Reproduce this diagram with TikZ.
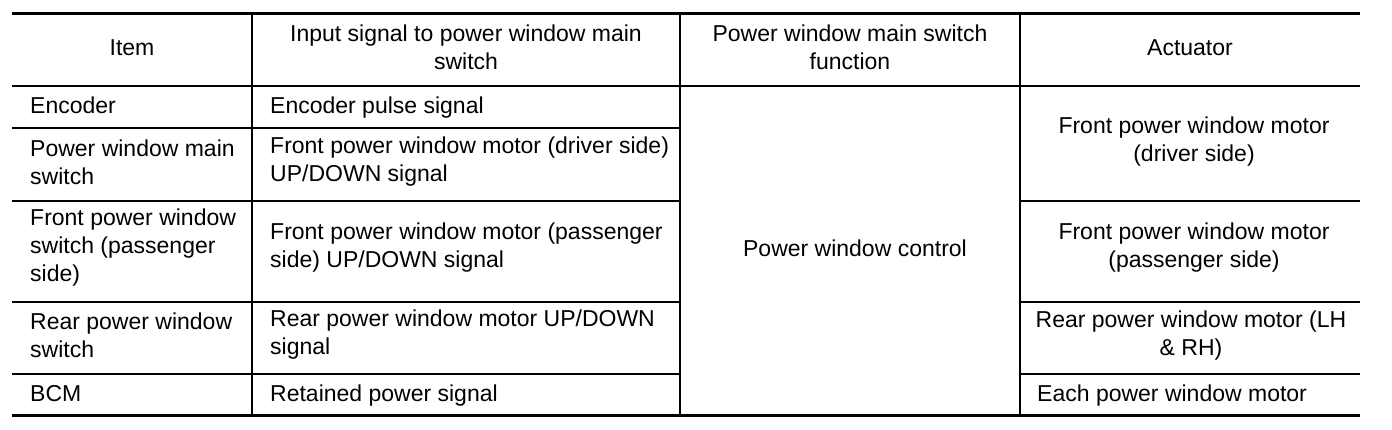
\documentclass[tikz,border=0pt]{standalone}
\usepackage{fontspec}
\setmainfont{Liberation Sans}
\usetikzlibrary{positioning}

\begin{document}
\begin{tikzpicture}[
  x=1pt, y=-1pt,
  font=\fontsize{23}{28}\selectfont,
  thickrule/.style={line width=3pt},
  midrule/.style={line width=1.5pt},
  thinrule/.style={line width=1.1pt},
  lcell/.style={
     anchor=west,
     inner sep=0pt,
     align=left
  },
  ccell/.style={
     inner sep=0pt,
     align=center
  },
  oneline/.style={
     text height=17pt,
     text depth=0pt
  }
]
\useasboundingbox (0,0) rectangle (1392,430);

% header
\node[ccell, oneline] (item)  at (132,47)  {Item};
\node[ccell] (input) at (466,47)  {Input signal to power window main\\switch};
\node[ccell] (func)  at (850,47)  {Power window main switch\\function};
\node[ccell, oneline] (act)   at (1190,47) {Actuator};

% item column
\node[lcell, oneline] (enc)  at (30,105) {Encoder};
\node[lcell] (pwms) at (30,162) {Power window main\\switch};
\node[lcell] (fpws) at (30,248) {Front power window\\switch (passenger\\side)};
\node[lcell] (rpws) at (30,335) {Rear power window\\switch};
\node[lcell, oneline] (bcm)  at (30,393) {BCM};

% input signal column
\node[lcell, oneline] (encsig)  at (270,105) {Encoder pulse signal};
\node[lcell] (pwmssig) at (270,162) {Front power window motor (driver side)\\UP/DOWN signal};
\node[lcell] (fpwssig) at (270,248) {Front power window motor (passenger\\side) UP/DOWN signal};
\node[lcell] (rpwssig) at (270,335) {Rear power window motor UP/DOWN\\signal};
\node[lcell, oneline] (bcmsig)  at (270,393) {Retained power signal};

% function column
\node[ccell, oneline] (ctrl) at (855,248) {Power window control};

% actuator column
\node[ccell] (actdrv)  at (1194,142) {Front power window motor\\(driver side)};
\node[ccell] (actpas)  at (1194,248) {Front power window motor\\(passenger side)};
\node[ccell] (actrear) at (1191,336) {Rear power window motor (LH\\\& RH)};
\node[lcell, oneline] (acteach) at (1037,393) {Each power window motor};

% rules
\draw[thickrule] (12,14) -- (1360,14);
\draw[thickrule] (12,415) -- (1360,415);
\draw[midrule] (12,86) -- (1360,86);
\foreach \yy in {128} \draw[thinrule] (12,\yy) -- (680,\yy);
\foreach \yy in {201,302,374} {
  \draw[thinrule] (12,\yy) -- (680,\yy);
  \draw[thinrule] (1020,\yy) -- (1360,\yy);
}
\foreach \xx in {252,680,1020} \draw[thinrule] (\xx,14) -- (\xx,415);

\end{tikzpicture}
\end{document}
